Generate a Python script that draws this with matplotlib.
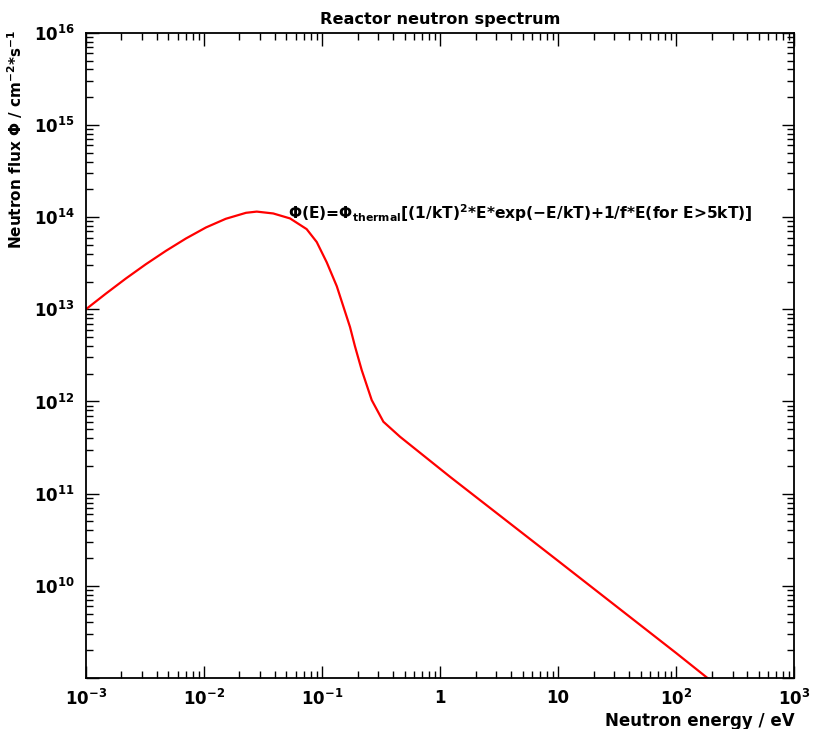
"""
Reactor neutron spectrum (log-log)
"""

import matplotlib

matplotlib.use("Agg")
import matplotlib.pyplot as plt
from matplotlib.ticker import LogLocator, FixedLocator, NullFormatter

# energy / eV
energy = [
    1e-3, 1.48e-3, 2.18e-3, 3.22e-3, 4.76e-3, 7.03e-3, 1.04e-2, 1.53e-2,
    2.27e-2, 2.80e-2, 3.86e-2, 5.36e-2, 7.41e-2, 9.02e-2, 0.1096, 0.1334,
    0.1726, 0.19, 0.2168, 0.2636, 0.331, 0.458, 1.216, 10, 100, 188,
]
# log10 of flux / cm^-2 s^-1
log_flux = [
    13.000, 13.171, 13.334, 13.489, 13.634, 13.768, 13.888, 13.982,
    14.047, 14.060, 14.040, 13.986, 13.870, 13.730, 13.510, 13.250,
    12.808, 12.60, 12.341, 12.015, 11.780, 11.617, 11.182, 10.27, 9.27, 8.99,
]
flux = [10**v for v in log_flux]

x_ticks = [1e-3, 1e-2, 1e-1, 1, 10, 1e2, 1e3]
x_labels = [r"10$^{-3}$", r"10$^{-2}$", r"10$^{-1}$", "1", "10", r"10$^{2}$", r"10$^{3}$"]
y_ticks = [1e9, 1e10, 1e11, 1e12, 1e13, 1e14, 1e15, 1e16]
y_labels = ["", r"10$^{10}$", r"10$^{11}$", r"10$^{12}$", r"10$^{13}$",
            r"10$^{14}$", r"10$^{15}$", r"10$^{16}$"]

plt.rcParams["font.family"] = ["DejaVu Sans"]
plt.rcParams["font.weight"] = "bold"
plt.rcParams["mathtext.default"] = "regular"
plt.rcParams["mathtext.fontset"] = "custom"
plt.rcParams["mathtext.rm"] = "DejaVu Sans:bold"
plt.rcParams["mathtext.bf"] = "DejaVu Sans:bold"

fig = plt.figure(figsize=(8.18, 7.29), dpi=100)
ax = fig.add_axes([0.105, 0.070, 0.866, 0.885])

ax.plot(energy, flux, color="red", linewidth=1.6)

ax.set_xscale("log")
ax.set_yscale("log")
ax.set_xlim(1e-3, 1e3)
ax.set_ylim(1e9, 1e16)

ax.xaxis.set_major_locator(FixedLocator(x_ticks))
ax.set_xticklabels(x_labels)
ax.yaxis.set_major_locator(FixedLocator(y_ticks))
ax.set_yticklabels(y_labels)
ax.xaxis.set_minor_locator(LogLocator(base=10, subs=range(2, 10), numticks=20))
ax.yaxis.set_minor_locator(LogLocator(base=10, subs=range(2, 10), numticks=20))
ax.xaxis.set_minor_formatter(NullFormatter())
ax.yaxis.set_minor_formatter(NullFormatter())

ax.tick_params(which="both", direction="in", top=True, right=True, width=1.0,
               colors="black", labelsize=12)
ax.tick_params(which="major", length=9, pad=8)
ax.tick_params(which="minor", length=5)
for s in ax.spines.values():
    s.set_linewidth(1.3)

ax.set_title("Reactor neutron spectrum", fontsize=11.6, fontweight="bold", pad=6)
ax.set_ylabel(r"Neutron flux $\Phi$ / cm$^{-2}$*s$^{-1}$", fontsize=11, fontweight="bold")
ax.yaxis.set_label_coords(-0.086, 0.835)
ax.set_xlabel("Neutron energy / eV", fontsize=12, fontweight="bold", loc="right", labelpad=2)

ax.text(0.285, 0.721,
        r"$\Phi$(E)=$\Phi_{thermal}$[(1/kT)$^{2}$*E*exp(−E/kT)+1/f*E(for E>5kT)]",
        transform=ax.transAxes, fontsize=11.2, fontweight="bold", ha="left", va="center")

plt.savefig("out.png", dpi=100)
